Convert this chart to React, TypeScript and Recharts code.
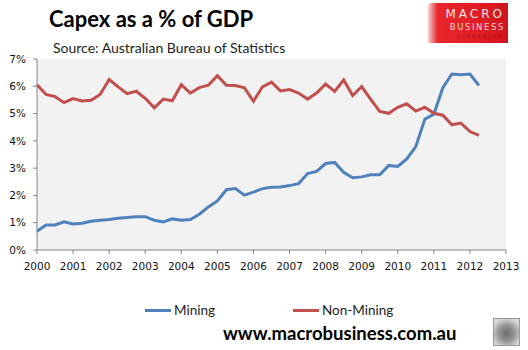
import React from 'react';
import { LineChart, Line, XAxis, YAxis, CartesianGrid, Legend } from 'recharts';

// quarterly observations, decimal years
const quarters = [
  2000, 2000.25, 2000.5, 2000.75, 2001, 2001.25, 2001.5, 2001.75,
  2002, 2002.25, 2002.5, 2002.75, 2003, 2003.25, 2003.5, 2003.75,
  2004, 2004.25, 2004.5, 2004.75, 2005, 2005.25, 2005.5, 2005.75,
  2006, 2006.25, 2006.5, 2006.75, 2007, 2007.25, 2007.5, 2007.75,
  2008, 2008.25, 2008.5, 2008.75, 2009, 2009.25, 2009.5, 2009.75,
  2010, 2010.25, 2010.5, 2010.75, 2011, 2011.25, 2011.5, 2011.75,
  2012, 2012.25,
];

const mining = [
  0.69, 0.92, 0.92, 1.03, 0.95, 0.98, 1.05, 1.09, 1.12, 1.16,
  1.19, 1.22, 1.22, 1.09, 1.03, 1.14, 1.09, 1.12, 1.31, 1.58,
  1.8, 2.21, 2.25, 2.01, 2.12, 2.25, 2.3, 2.31, 2.36, 2.43,
  2.8, 2.88, 3.17, 3.21, 2.85, 2.65, 2.68, 2.76, 2.76, 3.1,
  3.06, 3.34, 3.79, 4.79, 4.98, 5.95, 6.45, 6.42, 6.45, 6.03,
];

const nonMining = [
  6.06, 5.7, 5.62, 5.4, 5.55, 5.46, 5.49, 5.7, 6.25, 5.98,
  5.73, 5.82, 5.56, 5.21, 5.53, 5.47, 6.06, 5.75, 5.95, 6.04,
  6.39, 6.04, 6.03, 5.94, 5.45, 5.98, 6.15, 5.83, 5.88, 5.75,
  5.53, 5.75, 6.08, 5.81, 6.23, 5.66, 5.99, 5.52, 5.08, 5.01,
  5.23, 5.36, 5.09, 5.23, 5.01, 4.94, 4.59, 4.65, 4.34, 4.2,
];

const yearTicks = [2000, 2001, 2002, 2003, 2004, 2005, 2006, 2007, 2008, 2009, 2010, 2011, 2012, 2013];
const pctTicks = [0, 1, 2, 3, 4, 5, 6, 7];

const BLUE = '#4F81BD';
const RED = '#C0504D';
const AXIS = '#868686';

const data = quarters.map((t, i) => ({ t, mining: mining[i], nonMining: nonMining[i] }));

const renderLegend = (props: any) => {
  const { payload } = props;
  return (
    <div style={{ position: 'relative', height: 20 }}>
      {payload.map((entry: any, index: number) => (
        <div
          key={`item-${index}`}
          style={{
            position: 'absolute',
            left: index === 0 ? 145 : 293,
            top: 0,
            display: 'flex',
            alignItems: 'center',
          }}
        >
          <div style={{ width: 26, height: 3, background: entry.color, marginRight: 3 }} />
          <span style={{ fontFamily: 'Lato, sans-serif', fontSize: 13.5, color: '#222' }}>{entry.value}</span>
        </div>
      ))}
    </div>
  );
};

const Logo = () => (
  <div
    style={{
      position: 'absolute',
      left: 428,
      top: 3,
      width: 80,
      height: 40,
      background: 'linear-gradient(90deg, #f6d0d0 0%, #e8262c 12%, #e01e24 60%, #d0141c 100%)',
      borderTopLeftRadius: 4,
      fontFamily: '"DejaVu Sans", sans-serif',
      textAlign: 'right',
    }}
  >
    <div style={{ position: 'absolute', right: 3, top: 5, fontSize: 12, letterSpacing: 3, color: '#fbe4e4', lineHeight: '12px' }}>MACRO</div>
    <div style={{ position: 'absolute', right: 3, top: 20, fontSize: 8.5, letterSpacing: 1.6, color: '#f8d0d0', lineHeight: '9px' }}>BUSINESS</div>
    <div style={{ position: 'absolute', right: 4, top: 31, fontSize: 4.5, letterSpacing: 2.2, color: '#9a0c10', lineHeight: '5px' }}>SUPERBLOG</div>
  </div>
);

const Wolf = () => (
  <div
    style={{
      position: 'absolute',
      left: 493,
      top: 318,
      width: 25,
      height: 26,
      border: '1px solid #999',
      background: 'radial-gradient(circle at 50% 55%, #6a6a6a 0%, #9a9a9a 45%, #d8d8d8 80%)',
    }}
  />
);

export default function App() {
  return (
    <div style={{ position: 'absolute', left: 0, top: 0, width: 528, height: 350, background: '#fff', overflow: 'hidden' }}>
      <div
        style={{
          position: 'absolute',
          left: 49,
          top: 5,
          fontFamily: 'Lato, sans-serif',
          fontWeight: 700,
          fontSize: 22,
          color: '#000',
          whiteSpace: 'nowrap',
        }}
      >
        Capex as a % of GDP
      </div>
      <div
        style={{
          position: 'absolute',
          left: 53,
          top: 39,
          fontFamily: 'Lato, sans-serif',
          fontSize: 14,
          color: '#222',
          whiteSpace: 'nowrap',
        }}
      >
        Source: Australian Bureau of Statistics
      </div>
      <Logo />
      <div style={{ position: 'absolute', left: 0, top: 0 }}>
        <LineChart width={528} height={350} data={data} margin={{ top: 59, right: 22, left: 0, bottom: 50 }}>
          <CartesianGrid fill="#F2F2F2" horizontal={false} vertical={false} stroke="none" />
          <XAxis
            dataKey="t"
            type="number"
            domain={[2000, 2013]}
            ticks={yearTicks}
            interval={0}
            height={30}
            stroke={AXIS}
            tickSize={4}
            tickMargin={9}
            tick={{ fill: '#111', fontSize: 10.5, fontFamily: '"DejaVu Sans", sans-serif' }}
          />
          <YAxis
            type="number"
            domain={[0, 7]}
            ticks={pctTicks}
            interval={0}
            width={37}
            stroke={AXIS}
            tickSize={4}
            tickMargin={7}
            tickFormatter={(v) => `${v}%`}
            tick={{ fill: '#111', fontSize: 10.5, fontFamily: '"DejaVu Sans", sans-serif' }}
          />
          <Legend content={renderLegend} wrapperStyle={{ position: 'absolute', top: 302, left: 0, width: 528 }} />
          <Line
            type="linear"
            dataKey="mining"
            name="Mining"
            stroke={BLUE}
            strokeWidth={3}
            dot={false}
            isAnimationActive={false}
          />
          <Line
            type="linear"
            dataKey="nonMining"
            name="Non-Mining"
            stroke={RED}
            strokeWidth={3}
            dot={false}
            isAnimationActive={false}
          />
        </LineChart>
      </div>
      <div
        style={{
          position: 'absolute',
          left: 223,
          top: 322,
          fontFamily: 'Lato, sans-serif',
          fontWeight: 700,
          fontSize: 18.5,
          color: '#000',
          whiteSpace: 'nowrap',
        }}
      >
        www.macrobusiness.com.au
      </div>
      <Wolf />
    </div>
  );
}
